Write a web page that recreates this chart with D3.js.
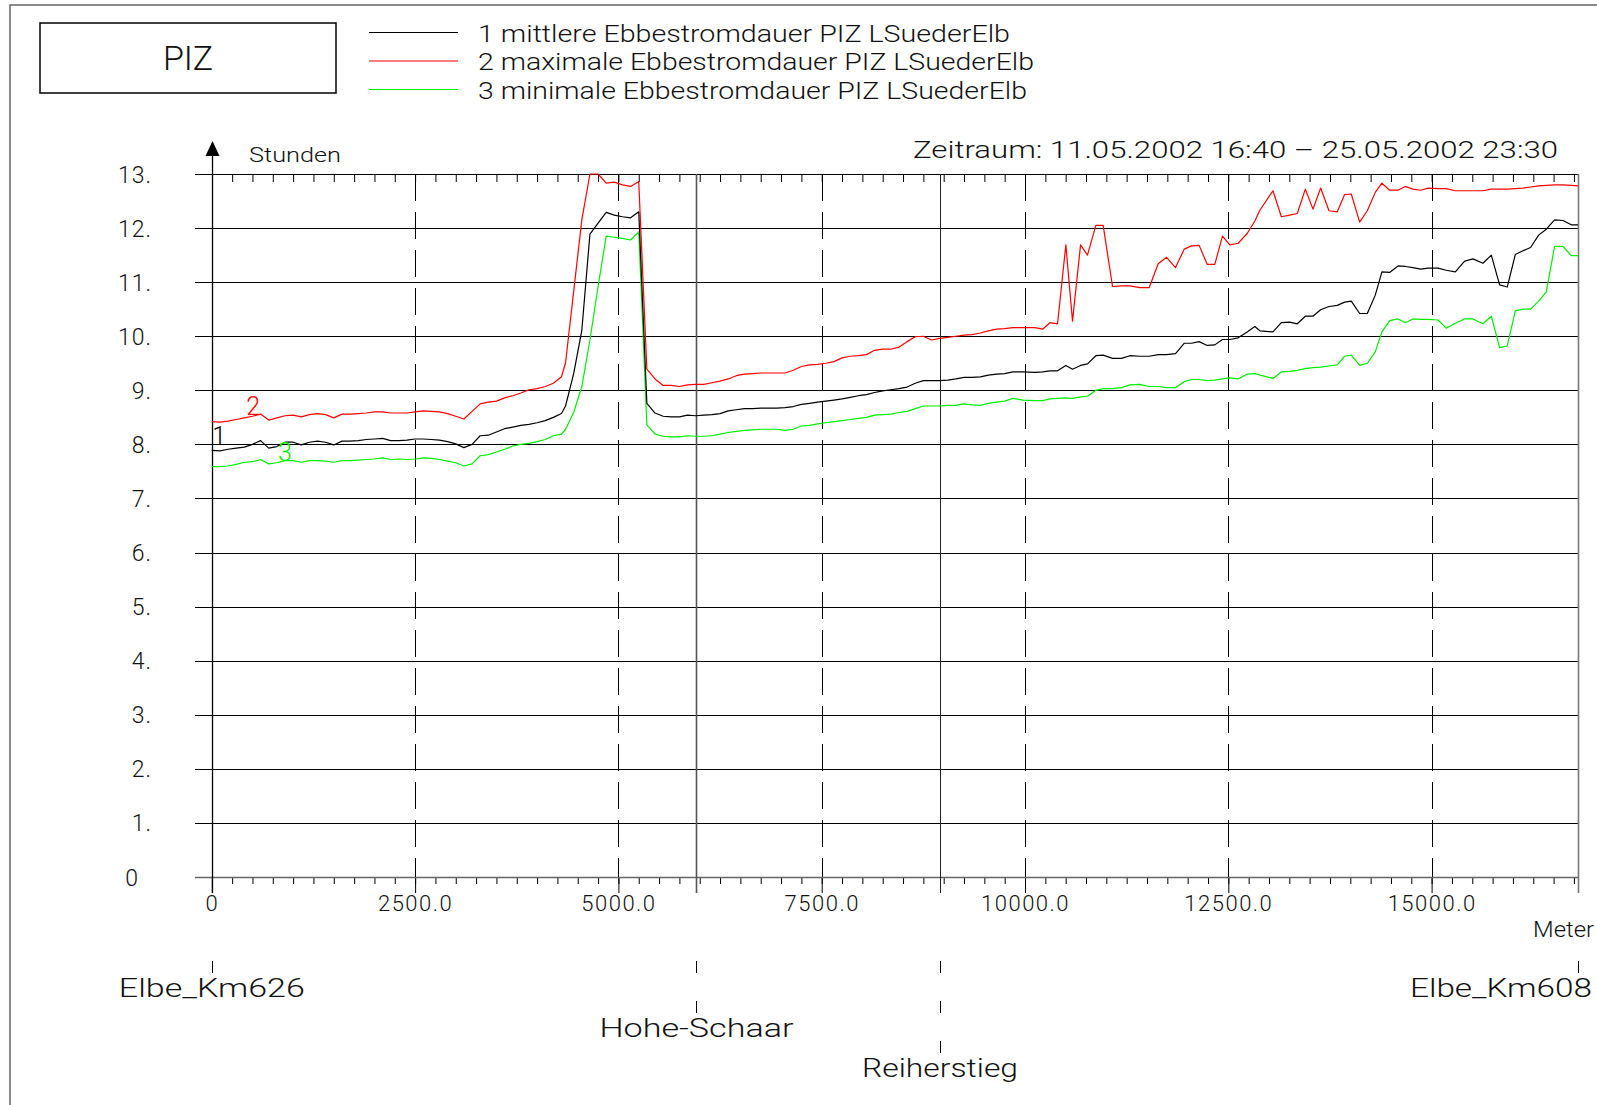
<!DOCTYPE html>
<html>
<head>
<meta charset="utf-8">
<script src="https://cdn.jsdelivr.net/npm/d3@7"></script>
<style>
  html, body { margin: 0; padding: 0; background: #fff; }
  svg { display: block; }
  text { font-family: Roboto, "DejaVu Sans", sans-serif; font-weight: 300; fill: #111; }
</style>
</head>
<body>
<svg id="chart" width="1597" height="1105"></svg>
<script>
// Stations along the Süderelbe, metres from Elbe km 626
const stationsM = [
  0,100,200,300,400,500,600,700,800,900,1000,1100,1200,1300,1400,1500,1600,1700,1800,1900,
  2000,2100,2200,2300,2400,2500,2600,2700,2800,2900,
  3000,3100,3200,3300,3400,3500,3600,3700,3800,3900,4000,4100,4200,4300,
  4350,4450,4550,4650,4750,4850,4950,5050,5150,5250,5350,5450,5550,5650,5750,5850,
  5950,6050,6150,6250,6350,6450,6550,6650,6750,6850,6950,7050,7150,7250,7350,7450,7550,7650,
  7750,7850,7950,8050,8150,8250,8350,8450,8550,8650,8750,8850,8950,9050,9150,9250,9350,9450,9550,9650,
  9750,9850,9980,10120,10216,10306,10400,10502,10584,10683,10768,10871,10961,11076,11187,11289,
  11412,11527,11638,11740,11851,11957,12047,12141,12240,12334,12428,12519,12621,12732,12826,
  12888,13049,13152,13254,13348,13447,13541,13635,13738,13840,13930,14012,14115,14209,14307,14389,
  14484,14586,14676,14770,14865,14955,15078,15180,15291,15406,15508,15631,15734,15836,15930,16029,
  16123,16217,16316,16410,16512,16615,16717,16800
];

// 1 mittlere Ebbestromdauer (hours)
const meanHours = [
  7.89,7.88,7.91,7.93,7.95,8.00,8.07,7.93,7.96,8.04,8.04,7.99,8.04,8.06,8.04,7.99,8.06,8.06,8.07,8.09,
  8.10,8.11,8.07,8.07,8.08,8.10,8.10,8.09,8.08,8.05,
  8.01,7.94,8.00,8.16,8.17,8.23,8.29,8.32,8.35,8.37,8.40,8.44,8.50,8.57,
  8.71,9.31,10.11,11.89,12.09,12.29,12.24,12.21,12.19,12.30,8.76,8.58,8.52,8.51,8.51,8.54,
  8.53,8.54,8.55,8.57,8.62,8.64,8.66,8.66,8.67,8.67,8.67,8.68,8.70,8.74,8.76,8.78,8.80,8.82,
  8.84,8.87,8.90,8.92,8.96,8.99,9.01,9.03,9.06,9.13,9.18,9.18,9.18,9.19,9.21,9.24,9.24,9.25,9.28,9.30,
  9.31,9.34,9.34,9.33,9.34,9.36,9.36,9.46,9.39,9.46,9.49,9.64,9.65,9.59,9.59,9.64,
  9.63,9.63,9.66,9.66,9.68,9.87,9.87,9.90,9.83,9.84,9.94,9.94,9.97,10.08,10.18,
  10.10,10.08,10.25,10.26,10.23,10.37,10.37,10.49,10.55,10.57,10.63,10.65,10.42,10.42,10.76,11.19,
  11.18,11.30,11.29,11.27,11.24,11.26,11.26,11.22,11.19,11.39,11.43,11.35,11.50,10.95,10.91,11.51,
  11.58,11.64,11.87,11.98,12.15,12.14,12.06,12.06
];

// 2 maximale Ebbestromdauer (hours)
const maxHours = [
  8.42,8.41,8.43,8.46,8.49,8.52,8.56,8.45,8.49,8.53,8.54,8.51,8.55,8.57,8.55,8.49,8.56,8.56,8.57,8.58,
  8.60,8.60,8.58,8.58,8.58,8.60,8.62,8.61,8.60,8.57,
  8.52,8.47,8.61,8.75,8.78,8.80,8.86,8.90,8.95,9.01,9.03,9.07,9.13,9.25,
  9.51,10.83,12.15,13.00,13.00,12.83,12.85,12.80,12.77,12.86,9.39,9.21,9.09,9.09,9.07,9.10,
  9.11,9.11,9.14,9.17,9.21,9.27,9.30,9.31,9.32,9.32,9.32,9.32,9.37,9.44,9.47,9.48,9.50,9.53,
  9.60,9.63,9.64,9.66,9.74,9.76,9.76,9.80,9.90,9.99,10.00,9.93,9.96,9.98,10.00,10.02,10.03,10.06,10.10,10.13,
  10.14,10.16,10.16,10.16,10.13,10.25,10.23,11.69,10.28,11.69,11.50,12.05,12.05,10.92,10.93,10.93,
  10.90,10.90,11.34,11.46,11.27,11.61,11.67,11.68,11.33,11.33,11.85,11.69,11.72,11.90,12.13,
  12.33,12.69,12.21,12.24,12.27,12.72,12.35,12.74,12.32,12.30,12.62,12.63,12.11,12.32,12.66,12.83,
  12.70,12.70,12.77,12.72,12.70,12.74,12.73,12.73,12.69,12.69,12.69,12.69,12.72,12.72,12.72,12.73,
  12.74,12.76,12.78,12.79,12.80,12.80,12.79,12.78
];

// 3 minimale Ebbestromdauer (hours)
const minHours = [
  7.59,7.59,7.60,7.63,7.67,7.68,7.72,7.64,7.66,7.70,7.70,7.67,7.70,7.70,7.69,7.67,7.70,7.70,7.71,7.72,
  7.73,7.75,7.72,7.73,7.72,7.73,7.75,7.74,7.72,7.69,
  7.66,7.60,7.64,7.79,7.81,7.86,7.91,7.97,8.00,8.02,8.05,8.09,8.16,8.19,
  8.28,8.59,9.07,9.93,10.92,11.85,11.83,11.81,11.78,11.93,8.36,8.19,8.15,8.14,8.14,8.16,
  8.15,8.15,8.16,8.19,8.22,8.24,8.26,8.27,8.28,8.28,8.28,8.26,8.28,8.34,8.35,8.38,8.40,8.42,
  8.44,8.46,8.48,8.50,8.54,8.55,8.56,8.59,8.61,8.66,8.71,8.71,8.71,8.72,8.72,8.75,8.73,8.72,8.76,8.78,
  8.80,8.85,8.82,8.81,8.81,8.84,8.85,8.86,8.85,8.88,8.89,9.00,9.03,9.03,9.05,9.10,
  9.11,9.07,9.07,9.05,9.05,9.16,9.20,9.20,9.18,9.19,9.21,9.23,9.21,9.30,9.31,
  9.28,9.22,9.34,9.35,9.37,9.40,9.42,9.43,9.45,9.47,9.63,9.65,9.46,9.50,9.71,10.08,
  10.29,10.32,10.25,10.32,10.31,10.31,10.30,10.15,10.24,10.32,10.32,10.23,10.37,9.79,9.82,10.47,
  10.50,10.50,10.65,10.82,11.66,11.66,11.49,11.49
];

const seriesNames = [
  "1 mittlere Ebbestromdauer PIZ LSuederElb",
  "2 maximale Ebbestromdauer PIZ LSuederElb",
  "3 minimale Ebbestromdauer PIZ LSuederElb"
];
const seriesColors = ["#000000", "#ff0000", "#00ee00"];

const yTicks = [0,1,2,3,4,5,6,7,8,9,10,11,12,13];
const yTickLabels = ["0","1.","2.","3.","4.","5.","6.","7.","8.","9.","10.","11.","12.","13."];
const xMajorTicks = [0,2500,5000,7500,10000,12500,15000];
const xMajorLabels = ["0","2500.0","5000.0","7500.0","10000.0","12500.0","15000.0"];

// Named river stations shown under the axis
const placeNames = ["Elbe_Km626", "Hohe-Schaar", "Reiherstieg", "Elbe_Km608"];
const placeM = [0, 5960, 8955, 16800];

const periodText = "Zeitraum: 11.05.2002 16:40 \u2013 25.05.2002 23:30";

// ---------------------------------------------------------------
const svg = d3.select("#chart");
const xMax = 16800;
const x = d3.scaleLinear().domain([0, xMax]).range([211.8, 1578]);
const y = d3.scaleLinear().domain([0, 13]).range([877, 174]);
const gridLeft = 195;

// page frame
svg.append("path").attr("d", "M10,1105 V5 H1597")
  .attr("fill", "none").attr("stroke", "#666").attr("stroke-width", 1.5);

// title box
svg.append("rect").attr("x", 40).attr("y", 23).attr("width", 296).attr("height", 70)
  .attr("fill", "none").attr("stroke", "#000").attr("stroke-width", 1.5);
svg.append("text").attr("x", 188).attr("y", 70).attr("text-anchor", "middle")
  .attr("font-size", 34).attr("textLength", 50).text("PIZ");

// legend
const legend = svg.append("g");
const legendY = [32.5, 61, 89.5];
const legendEnds = [1010, 1034, 1027];
seriesNames.forEach((name, i) => {
  legend.append("line").attr("x1", 369).attr("x2", 458)
    .attr("y1", legendY[i]).attr("y2", legendY[i])
    .attr("stroke", seriesColors[i]).attr("stroke-width", 1.2);
  legend.append("text").attr("x", 478).attr("y", legendY[i] + 9)
    .attr("font-size", 23).attr("textLength", legendEnds[i] - 478)
    .attr("lengthAdjust", "spacingAndGlyphs").text(name);
});

// period
svg.append("text").attr("x", 913).attr("y", 158).attr("font-size", 24)
  .attr("textLength", 645).attr("lengthAdjust", "spacingAndGlyphs").text(periodText);

// horizontal grid lines
svg.append("g").selectAll("line").data(yTicks).join("line")
  .attr("x1", gridLeft).attr("x2", x(xMax))
  .attr("y1", d => Math.round(y(d)) + 0.5).attr("y2", d => Math.round(y(d)) + 0.5)
  .attr("stroke", "#000").attr("stroke-width", 1);

// y tick labels
svg.append("g").selectAll("text").data(yTicks).join("text")
  .attr("x", d => d === 0 ? 139 : 152)
  .attr("y", d => y(d) + 8.5)
  .attr("text-anchor", "end").attr("font-size", 23).attr("letter-spacing", 1)
  .text((d, i) => yTickLabels[i]);

// dashed vertical grid lines at major ticks
svg.append("g").selectAll("line").data(xMajorTicks.filter(d => d > 0)).join("line")
  .attr("x1", d => Math.round(x(d)) + 0.5).attr("x2", d => Math.round(x(d)) + 0.5)
  .attr("y1", y(13)).attr("y2", y(0))
  .attr("stroke", "#000").attr("stroke-width", 1).attr("stroke-dasharray", "27,11");

// minor ticks every 250 m on top and bottom edge
const minorTicks = d3.range(250, xMax, 250);
const topAxis = d3.axisBottom(x).tickValues(minorTicks).tickSize(8).tickFormat("");
svg.append("g").attr("transform", `translate(0,${y(13)})`).call(topAxis)
  .call(g => g.select(".domain").remove())
  .call(g => g.selectAll("line").attr("stroke", "#000"));
const bottomAxis = d3.axisBottom(x).tickValues(minorTicks).tickSize(7).tickFormat("");
svg.append("g").attr("transform", `translate(0,${y(0)})`).call(bottomAxis)
  .call(g => g.select(".domain").remove())
  .call(g => g.selectAll("line").attr("stroke", "#000"));

// major ticks and labels
const majorAxis = d3.axisBottom(x).tickValues(xMajorTicks).tickSize(16).tickPadding(4)
  .tickFormat((d, i) => xMajorLabels[i]);
svg.append("g").attr("transform", `translate(0,${y(0)})`).call(majorAxis)
  .call(g => g.select(".domain").remove())
  .call(g => g.selectAll("line").attr("stroke", "#000"))
  .call(g => g.selectAll("text").attr("font-size", 22).attr("letter-spacing", 1.5)
    .attr("font-family", "Roboto, 'DejaVu Sans', sans-serif").attr("fill", "#111")
    .attr("dy", null).attr("y", 34));

// bottom axis line
svg.append("line").attr("x1", gridLeft).attr("x2", x(xMax))
  .attr("y1", y(0) + 0.5).attr("y2", y(0) + 0.5).attr("stroke", "#666").attr("stroke-width", 1.5);

// station lines through the plot (Hohe-Schaar, Reiherstieg) and right edge
svg.append("g").selectAll("line").data(placeM.slice(1)).join("line")
  .attr("x1", d => Math.round(x(d)) + 0.5).attr("x2", d => Math.round(x(d)) + 0.5)
  .attr("y1", y(13)).attr("y2", y(0) + 16)
  .attr("stroke", (d, i) => i === 0 ? "#555" : (i === 2 ? "#777" : "#222"))
  .attr("stroke-width", (d, i) => i === 1 ? 1 : 1.6);

// y axis with arrow
svg.append("line").attr("x1", 212.5).attr("x2", 212.5).attr("y1", 152).attr("y2", y(0) + 16)
  .attr("stroke", "#000").attr("stroke-width", 1.3);
svg.append("path").attr("d", "M212.5,141 L205.5,156 L219.5,156 Z").attr("fill", "#000");
svg.append("text").attr("x", 249).attr("y", 161.5).attr("font-size", 21)
  .attr("textLength", 92).attr("lengthAdjust", "spacingAndGlyphs").text("Stunden");

// unit label of x axis
svg.append("text").attr("x", 1594).attr("y", 937).attr("text-anchor", "end")
  .attr("font-size", 22).attr("textLength", 61).attr("lengthAdjust", "spacingAndGlyphs").text("Meter");

// station names under the axis, stacked in rows
const placeRow = [0, 1, 2, 0];
const placeWidth = [186, 194, 156, 182];
const rowBase = [997, 1037, 1077];
placeNames.forEach((name, i) => {
  const px = Math.round(x(placeM[i])) + 0.5;
  for (let r = 0; r <= placeRow[i]; r++) {
    svg.append("line").attr("x1", px).attr("x2", px)
      .attr("y1", rowBase[r] - 36).attr("y2", rowBase[r] - 24)
      .attr("stroke", "#000").attr("stroke-width", 1);
  }
  let tx = x(placeM[i]) - placeWidth[i] / 2;
  if (i === 3) tx = 1592 - placeWidth[i];
  svg.append("text").attr("x", tx).attr("y", rowBase[placeRow[i]])
    .attr("font-size", 26).attr("textLength", placeWidth[i])
    .attr("lengthAdjust", "spacingAndGlyphs").text(name);
});

// series lines
const seriesValues = [meanHours, maxHours, minHours];
const line = d3.line().x((d, i) => x(stationsM[i])).y(d => y(d));
const drawOrder = [2, 1, 0];
drawOrder.forEach(k => {
  svg.append("path").datum(seriesValues[k])
    .attr("fill", "none").attr("stroke", seriesColors[k]).attr("stroke-width", 1.2)
    .attr("stroke-linejoin", "round").attr("d", line);
});

// series numbers placed just off each curve near its start
const numberAnchors = [
  { k: 1, m: 510, off: 1 },
  { k: 0, m: 90, off: -6 },
  { k: 2, m: 900, off: 0 }
];
numberAnchors.forEach(a => {
  const idx = d3.bisectLeft(stationsM, a.m);
  svg.append("text").attr("x", x(a.m)).attr("y", y(seriesValues[a.k][idx]) + a.off)
    .attr("text-anchor", "middle")
    .attr("font-size", 25).style("fill", seriesColors[a.k]).text(String(a.k + 1));
});
</script>
</body>
</html>
